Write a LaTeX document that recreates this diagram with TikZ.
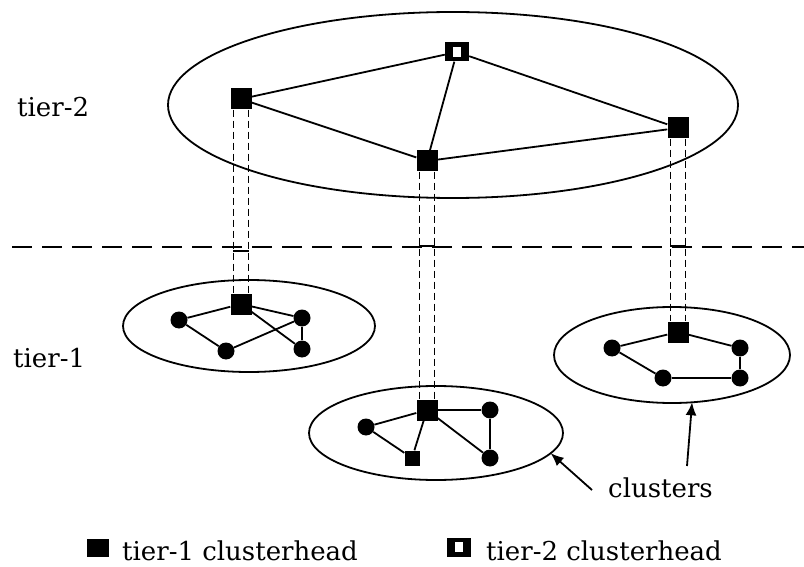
\documentclass[tikz,border=0pt]{standalone}
\usepackage{fontspec}
\setmainfont{DejaVu Serif}
\usetikzlibrary{arrows.meta,shapes.geometric}
\begin{document}
\begin{tikzpicture}[x=1pt,y=-1pt,
 sq/.style={rectangle, fill=black, minimum size=21pt, inner sep=0pt},
 dotn/.style={circle, fill=black, minimum size=17pt, inner sep=0pt},
 smsq/.style={rectangle, fill=black, minimum size=15pt, inner sep=0pt},
 hollow/.style={rectangle, fill=black, minimum width=24pt, minimum height=19pt, inner sep=0pt,
   path picture={\fill[white] ([xshift=-4pt,yshift=-5pt]path picture bounding box.center) rectangle ++(8pt,10pt);}},
 link/.style={line width=1.8pt},
 cl/.style={draw, ellipse, line width=1.8pt, inner sep=0pt, outer sep=0pt},
 pipe/.style={line width=1.5pt, dash pattern=on 7pt off 4pt},
 capl/.style={line width=1.6pt},
 lbl/.style={font=\fontsize{26}{30}\selectfont, inner sep=0pt, anchor=base west},
 arr/.style={line width=1.8pt, -{Latex[length=13pt,width=11pt]}}
]
\fill[white] (0,0) rectangle (804,567);
\useasboundingbox (0,0) rectangle (804,567);

% ellipses
\node[cl, minimum width=570pt, minimum height=186pt] (E0) at (453,105) {};
\node[cl, minimum width=252pt, minimum height=92pt] (E1) at (249,326) {};
\node[cl, minimum width=254pt, minimum height=94pt] (E2) at (436,433) {};
\node[cl, minimum width=236pt, minimum height=96pt] (E3) at (672,355) {};

% tier separator
\coordinate (dl) at (12,247);
\coordinate (dr) at (804,247);
\draw[line width=2pt, dash pattern=on 20pt off 10pt] (dl) -- (dr);

% tier-2 nodes
\node[hollow] (H) at (457,52) {};
\node[sq] (A) at (241,99) {};
\node[sq] (B) at (427,161) {};
\node[sq] (C) at (678,128) {};

% cluster 1
\node[sq] (h1) at (241,304) {};
\node[dotn] (p1) at (179,320) {};
\node[dotn] (q1) at (226,351) {};
\node[dotn] (r1) at (302,318) {};
\node[dotn] (s1) at (302,349) {};

% cluster 2
\node[sq] (h2) at (427,410) {};
\node[dotn] (p2) at (366,427) {};
\node[smsq] (q2) at (412,458) {};
\node[dotn] (r2) at (490,410) {};
\node[dotn] (s2) at (490,458) {};

% cluster 3
\node[sq] (h3) at (678,332) {};
\node[dotn] (p3) at (612,348) {};
\node[dotn] (r3) at (740,348) {};
\node[dotn] (q3) at (663,378) {};
\node[dotn] (s3) at (740,378) {};

% tier-2 links
\draw[link] (A) -- (H);
\draw[link] (H) -- (B);
\draw[link] (H) -- (C);
\draw[link] (A) -- (B);
\draw[link] (B) -- (C);

% cluster links
\draw[link] (h1) -- (p1);
\draw[link] (p1) -- (q1);
\draw[link] (q1) -- (r1);
\draw[link] (h1) -- (r1);
\draw[link] (h1) -- (s1);
\draw[link] (r1) -- (s1);

\draw[link] (h2) -- (p2);
\draw[link] (p2) -- (q2);
\draw[link] (h2) -- (q2);
\draw[link] (h2) -- (r2);
\draw[link] (h2) -- (s2);
\draw[link] (r2) -- (s2);

\draw[link] (h3) -- (p3);
\draw[link] (h3) -- (r3);
\draw[link] (p3) -- (q3);
\draw[link] (q3) -- (s3);
\draw[link] (r3) -- (s3);

% pipes between tiers
\draw[pipe] ([xshift=-7.5pt]A.south) -- ([xshift=-7.5pt]h1.north);
\draw[pipe] ([xshift=7.5pt]A.south) -- ([xshift=7.5pt]h1.north);
\draw[pipe] ([xshift=-7.5pt]B.south) -- ([xshift=-7.5pt]h2.north);
\draw[pipe] ([xshift=7.5pt]B.south) -- ([xshift=7.5pt]h2.north);
\draw[pipe] ([xshift=-7.5pt]C.south) -- ([xshift=-7.5pt]h3.north);
\draw[pipe] ([xshift=7.5pt]C.south) -- ([xshift=7.5pt]h3.north);

\coordinate (capA) at (241,251);
\coordinate (capB) at (427,246);
\coordinate (capC) at (678,246);
\draw[capl] ([xshift=-8pt]capA) -- ([xshift=8pt]capA);
\draw[capl] ([xshift=-8pt]capB) -- ([xshift=8pt]capB);
\draw[capl] ([xshift=-8pt]capC) -- ([xshift=8pt]capC);

% labels
\node[lbl] (t2) at (17,117) {tier-2};
\node[lbl] (t1) at (13,367) {tier-1};
\node[lbl] (cls) at (608,497) {clusters};

% arrows to clusters
\coordinate (a2) at (592,490);
\coordinate (a3) at (687,466);
\draw[arr] (a2) -- (E2.-10);
\draw[arr] (a3) -- (E3.-67);

% legend
\node[rectangle, fill=black, minimum width=22pt, minimum height=18pt, inner sep=0pt] (k1) at (98,548) {};
\node[lbl] (k1t) at (122,560) {tier-1 clusterhead};
\node[hollow] (k2) at (459,547) {};
\node[lbl] (k2t) at (486,560) {tier-2 clusterhead};
\end{tikzpicture}
\end{document}
